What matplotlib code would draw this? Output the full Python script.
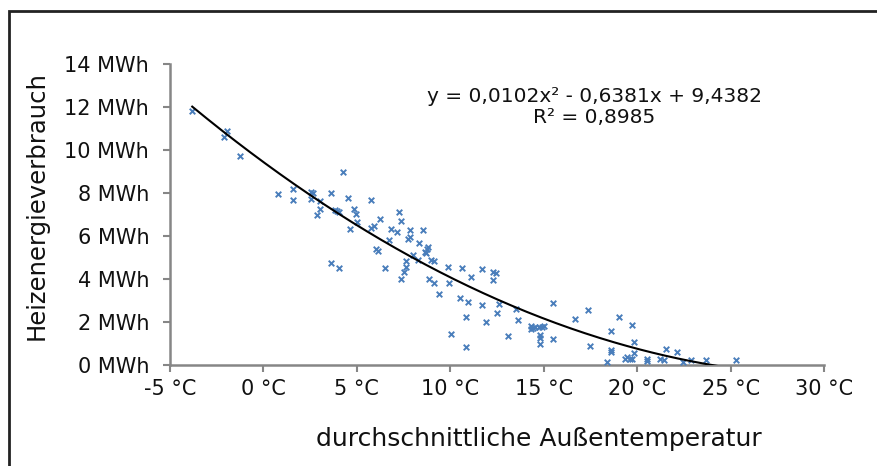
import numpy as np
import matplotlib
matplotlib.use("Agg")
import matplotlib.pyplot as plt
from matplotlib.patches import Rectangle

plt.rcParams['font.family'] = ['DejaVu Sans']
plt.rcParams['axes.unicode_minus'] = False

# Messwerte: mittlere Außentemperatur (°C) und Heizenergie (MWh)
temp = [-3.81, -2.11, -1.93, -1.24, 0.76, 1.56, 1.56, 2.53, 2.63, 2.53,
        3.04, 2.85, 3.04, 3.63, 4.24, 3.85, 3.95, 4.06, 4.54, 4.63,
        4.85, 4.95, 4.99, 3.63, 4.06, 5.74, 6.24, 5.74, 5.91, 6.02,
        6.15, 6.52, 7.24, 7.34, 6.84, 7.13, 6.73, 7.84, 8.52, 7.72,
        7.84, 8.32, 8.80, 8.73, 8.63, 8.68, 8.02, 8.25, 8.99, 9.12,
        7.61, 7.61, 7.52, 7.34, 8.84, 9.12, 9.41, 9.87, 9.94, 10.61,
        11.10, 10.52, 10.93, 10.82, 10.02, 10.82, 11.69, 12.30, 12.43, 12.30,
        11.69, 11.91, 12.50, 12.60, 13.10, 13.51, 13.60, 14.30, 14.41, 14.30,
        14.53, 14.76, 14.89, 15.01, 14.80, 14.80, 14.80, 15.48, 15.48, 16.67,
        17.38, 17.47, 18.41, 18.62, 18.62, 18.62, 19.03, 19.72, 19.83, 19.83,
        19.36, 19.47, 19.60, 19.72, 20.54, 20.54, 21.56, 21.23, 21.45, 22.15,
        22.46, 22.88, 23.70, 25.29]
energy = [11.83, 10.62, 10.87, 9.72, 7.97, 8.20, 7.67, 8.05, 7.99, 7.71,
          7.61, 6.96, 7.24, 7.99, 8.99, 7.19, 7.15, 7.12, 7.75, 6.31,
          7.24, 7.01, 6.67, 4.73, 4.51, 7.67, 6.78, 6.37, 6.45, 5.40,
          5.29, 4.50, 7.12, 6.68, 6.31, 6.19, 5.81, 6.28, 6.28, 5.85,
          5.97, 5.69, 5.47, 5.38, 5.27, 5.20, 5.10, 4.88, 4.88, 4.82,
          4.82, 4.57, 4.34, 3.99, 3.99, 3.83, 3.30, 4.57, 3.80, 4.50,
          4.08, 3.13, 2.92, 2.23, 1.43, 0.82, 4.46, 4.33, 4.28, 3.95,
          2.80, 1.99, 2.40, 2.85, 1.33, 2.59, 2.11, 1.81, 1.73, 1.66,
          1.78, 1.75, 1.78, 1.80, 1.40, 1.24, 0.96, 2.90, 1.20, 2.14,
          2.57, 0.88, 0.13, 1.58, 0.68, 0.59, 2.24, 1.86, 1.09, 0.56,
          0.29, 0.35, 0.29, 0.29, 0.29, 0.20, 0.73, 0.29, 0.21, 0.60,
          0.16, 0.24, 0.24, 0.24]

# Trendlinie (Polynom 2. Grades) wie im Diagramm angegeben
coef = [0.0102, -0.6381, 9.4382]
r2 = 0.8985

x_ticks = [-5, 0, 5, 10, 15, 20, 25, 30]
y_ticks = [0, 2, 4, 6, 8, 10, 12, 14]

fig = plt.figure(figsize=(8.77, 4.66), dpi=100)
ax = fig.add_axes([170 / 877, 1 - 365 / 466, 654 / 877, 301 / 466])

ax.scatter(temp, energy, marker='x', s=16, color='#4a7ebb', linewidths=1.4, zorder=3)

xs = np.linspace(min(temp), max(temp), 300)
ax.plot(xs, np.polyval(coef, xs), color='black', lw=1.5, zorder=4)

ax.set_xlim(-5, 30)
ax.set_ylim(0, 14)
ax.set_xticks(x_ticks)
ax.set_yticks(y_ticks)
ax.set_xticklabels([f'{t} °C' for t in x_ticks])
ax.set_yticklabels([f'{t} MWh' for t in y_ticks])

for side in ['top', 'right']:
    ax.spines[side].set_visible(False)
for side in ['left', 'bottom']:
    ax.spines[side].set_color('#868686')
    ax.spines[side].set_linewidth(1.8)
ax.tick_params(axis='both', direction='out', length=5, width=1.5, color='#868686',
               labelsize=15, labelcolor='#111111')
ax.tick_params(axis='y', pad=10)
ax.tick_params(axis='x', pad=5)

ax.set_ylabel('Heizenergieverbrauch', fontsize=17.5, color='#111111')
ax.yaxis.set_label_coords(-0.185, 0.53)
ax.set_xlabel('durchschnittliche Außentemperatur', fontsize=18, color='#111111')
ax.xaxis.set_label_coords(0.564, -0.207)

eq = f'y = {coef[0]:.4f}x² - {abs(coef[1]):.4f}x + {coef[2]:.4f}'.replace('.', ',')
ax.text(17.7, 12.47, eq, ha='center', va='center', fontsize=14.5, color='#111111')
ax.text(17.7, 11.49, f'R² = {r2:.4f}'.replace('.', ','), ha='center', va='center',
        fontsize=14.5, color='#111111')

fig.patches.append(Rectangle((9 / 877, -0.1), 2, 1.1 - 11 / 466, transform=fig.transFigure,
                             fill=False, lw=2, ec='#222222'))

fig.savefig('out.png', dpi=100)
plt.close(fig)
